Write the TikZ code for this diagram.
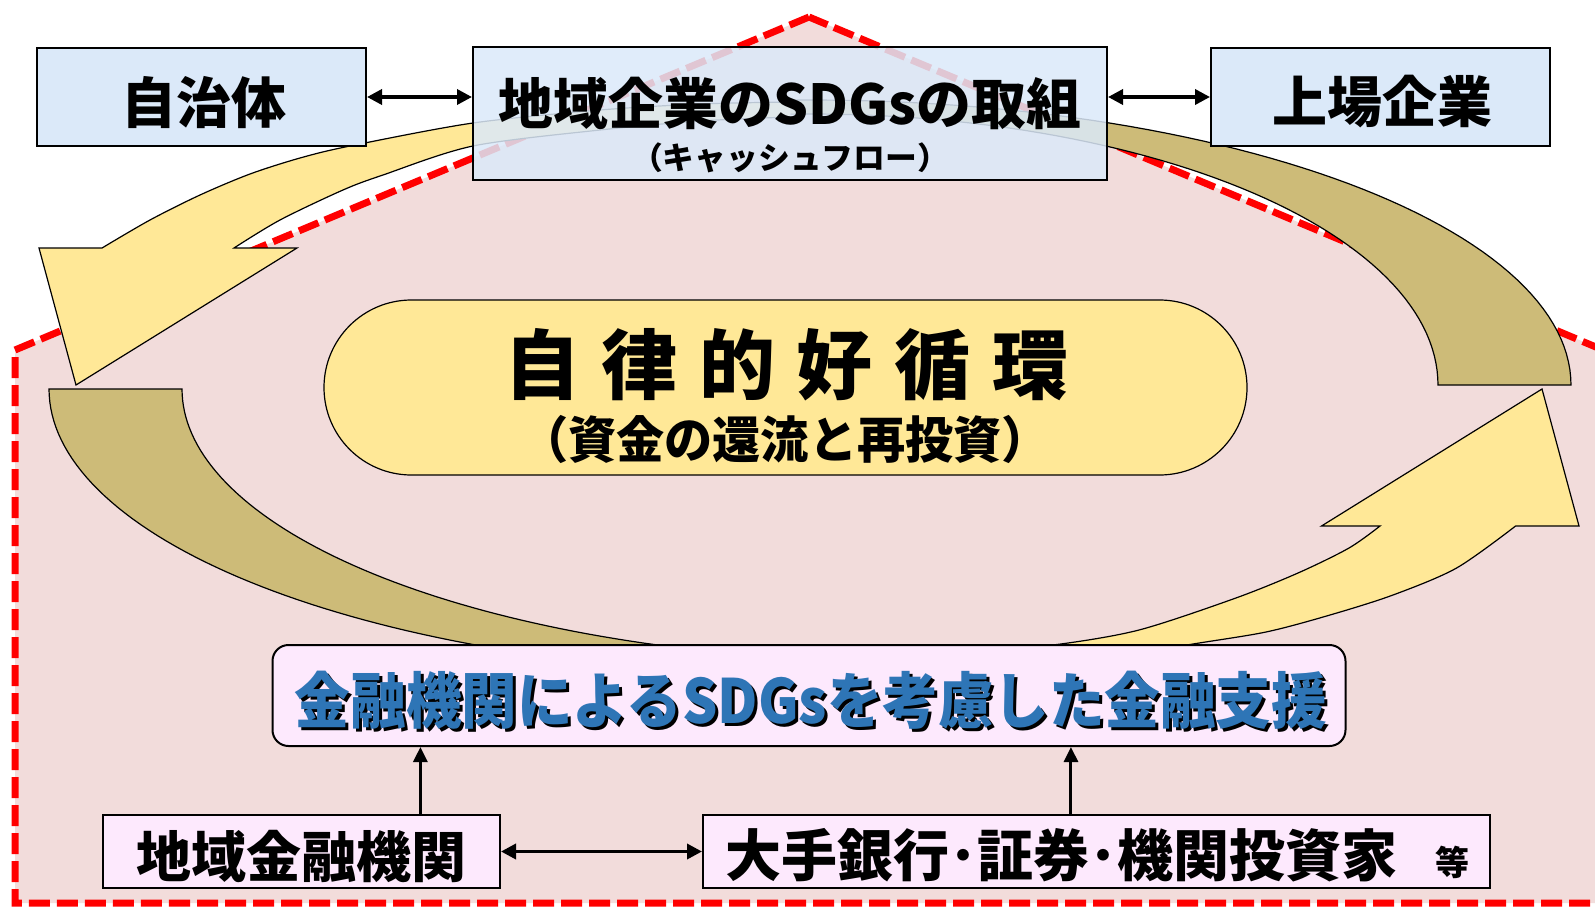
\documentclass[tikz,border=0pt]{standalone}
\usepackage{fontspec}
\usepackage{graphicx}
\usetikzlibrary{arrows.meta,calc}
\newfontfamily\jp{Noto Sans CJK JP}
\newcommand{\fs}[1]{\fontsize{#1pt}{#1pt}\selectfont}
\newcommand{\fitw}[2]{\resizebox{#1}{\height}{#2}}
\definecolor{pinkbg}{HTML}{F2DCDB}
\definecolor{dashred}{HTML}{FF0000}
\definecolor{bluebox}{HTML}{DBE9F9}
\definecolor{yel}{HTML}{FFE897}
\definecolor{tanc}{HTML}{CDBB78}
\definecolor{pinkbox}{HTML}{FDE9FD}
\definecolor{bluetxt}{HTML}{2E75B6}
\begin{document}
\begin{tikzpicture}[x=1pt,y=-1pt,
  box/.style={draw=black, line width=2pt, fill=bluebox, inner sep=0pt},
  pbox/.style={draw=black, line width=2pt, fill=pinkbox, inner sep=0pt},
  tnode/.style={inner sep=0pt, font=\jp\bfseries},
  bandline/.style={draw=black, line width=1.2pt},
  arr/.style={-{Triangle[length=15pt,width=14pt]}, line width=3pt},
  dbl/.style={{Triangle[length=15pt,width=15pt]}-{Triangle[length=15pt,width=15pt]}, line width=3.5pt},
]
\clip (0,0) rectangle (1595,907);
% pentagon area
\path[fill=pinkbg] (809,17) -- (15,350) -- (15,903) -- (1603,903) -- (1603,350) -- cycle;
\draw[dashred, line width=7pt, dash pattern=on 21pt off 7pt] (809,17) -- (15,350) -- (15,903) -- (1603,903) -- (1603,350) -- cycle;

% top band: tan (back) part
\path[fill=tanc] plot[domain=0:91.5, samples=60] ({810+761*cos(91.5-\x)},{385-285*sin(91.5-\x)})
  -- plot[domain=0:91.8, samples=60] ({810+628*cos(\x)},{385-271*sin(\x)}) -- cycle;
\draw[bandline] plot[domain=0:91.5, samples=60] ({810+761*cos(91.5-\x)},{385-285*sin(91.5-\x)})
  -- plot[domain=0:91.8, samples=60] ({810+628*cos(\x)},{385-271*sin(\x)});
% top band: yellow (front) part with arrow head
\path[fill=yel] plot[smooth] coordinates {(790,102) (700,104) (600,110) (473,123) (350,146) (300,158) (250,174) (200,195) (150,220) (102,248)}
  -- (39,248) -- (76,385) -- (297,248)
  -- plot[smooth] coordinates {(234,248) (280,220) (343,190) (383,175) (473,146) (600,130) (700,121) (790,117)} -- cycle;
\draw[bandline, line join=miter] plot[smooth] coordinates {(790,102) (700,104) (600,110) (473,123) (350,146) (300,158) (250,174) (200,195) (150,220) (102,248)}
  -- (39,248) -- (76,385) -- (297,248)
  -- plot[smooth] coordinates {(234,248) (280,220) (343,190) (383,175) (473,146) (600,130) (700,121) (790,117)};

% bottom band: tan (back) part
\filldraw[fill=tanc, bandline] plot[domain=0:89, samples=70] ({810-761*cos(\x)},{389+285*sin(\x)})
  -- plot[domain=82:0, samples=70] ({900-718*cos(\x)},{389+272*sin(\x)}) -- cycle;
% bottom band: yellow (front) part with arrow head
\filldraw[fill=yel, bandline, line join=miter] plot[smooth] coordinates {(800,658) (900,655) (980,651) (1057,644.5) (1139,630) (1234.5,598.5) (1298,573) (1349,548) (1380,526)}
  -- (1321.5,526) -- (1542,389) -- (1579,526)
  -- plot[smooth] coordinates {(1515.6,526) (1456.6,568) (1393,595) (1330,615) (1266,632) (1190,644.5) (1100,660) (950,670) (797,674)} -- cycle;

% central pill
\node[draw=black, line width=1.2pt, fill=yel, minimum width=923pt, minimum height=175pt, rounded corners=87.5pt, inner sep=0pt] (pill) at (785.5,387.5) {};
\node[tnode] (pillt) at (786,365) {\fs{76}自\hspace{21.6pt}律\hspace{21.6pt}的\hspace{21.6pt}好\hspace{21.6pt}循\hspace{21.6pt}環};
\node[tnode] (pills) at (785,439) {\fs{50}\fitw{530pt}{（資金の還流と再投資）}};

% finance support box
\node[pbox, rounded corners=16pt, minimum width=1073pt, minimum height=101pt] (kinyu) at (809,695.5) {};
\node[tnode, text=black] (kinyus) at (814,703.5) {\fs{61}\fitw{1032pt}{金融機関によるSDGsを考慮した金融支援}};
\node[tnode, text=bluetxt] (kinyut) at (811,700.5) {\fs{61}\fitw{1032pt}{金融機関によるSDGsを考慮した金融支援}};

% bottom boxes
\node[pbox, minimum width=397pt, minimum height=73pt] (chiiki) at (301.5,851.5) {};
\node[tnode] (chiikit) at (301.5,856.5) {\fs{55}地域金融機関};
\node[pbox, minimum width=787pt, minimum height=73pt] (ote) at (1096.5,851.3) {};
\node[tnode] (otet) at (1061.5,855.5) {\fs{56}大手銀行･証券･機関投資家};
\node[tnode] (otet2) at (1452.5,862) {\fs{34}等};

% top boxes
\node[box, minimum width=329pt, minimum height=98pt] (jichi) at (201.5,97) {};
\node[tnode] (jichit) at (204,103) {\fs{55}自治体};
\node[box, minimum width=339pt, minimum height=98pt] (jojo) at (1380.5,97) {};
\node[tnode] (jojot) at (1382,102) {\fs{55}上場企業};
\node[box, fill opacity=0.85, minimum width=634pt, minimum height=133pt] (tori) at (790,113.5) {};
\node[tnode] (torit) at (790,103) {\fs{55}\fitw{582pt}{地域企業のSDGsの取組}};
\node[tnode] (toris) at (790,157.5) {\fs{31}\fitw{318pt}{（キャッシュフロー）}};

% connectors
\draw[dbl] (jichi.east) -- (jichi.east -| tori.west);
\draw[dbl] (jojo.west -| tori.east) -- (jojo.west);
\draw[dbl] (chiiki.east) -- (chiiki.east -| ote.west);
\coordinate (a1) at ($(chiiki.north west)!0.798!(chiiki.north east)$);
\coordinate (a2) at ($(ote.north west)!0.4676!(ote.north east)$);
\draw[arr] (a1) -- (a1 |- kinyu.south);
\draw[arr] (a2) -- (a2 |- kinyu.south);
\end{tikzpicture}
\end{document}
